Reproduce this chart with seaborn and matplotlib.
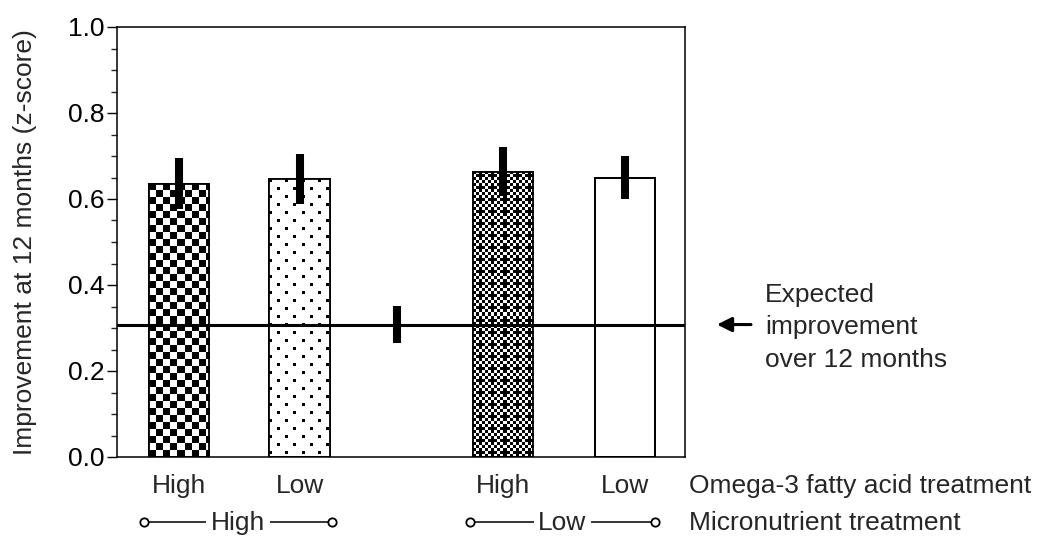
import numpy as np
import pandas as pd
import matplotlib
matplotlib.use('Agg')
import matplotlib.pyplot as plt
import matplotlib.transforms as mtransforms
from matplotlib.patches import Rectangle
from matplotlib.ticker import MultipleLocator
import seaborn as sns

# ---------------- data ----------------
omega_labels = ['High', 'Low', 'High', 'Low']
micro_labels = ['High', 'Low']
bar_positions = [0.0, 1.0, 2.69, 3.70]
bar_means = [0.636, 0.646, 0.663, 0.650]
bar_errors = [0.059, 0.058, 0.057, 0.050]
expected_pos = 1.81
expected_mean = 0.308
expected_err = 0.043
y_ticks = [0.0, 0.2, 0.4, 0.6, 0.8, 1.0]
y_tick_labels = ['0.0', '0.2', '0.4', '0.6', '0.8', '1.0']
ylabel = 'Improvement at 12 months (z-score)'
omega_title = 'Omega-3 fatty acid treatment'
micro_title = 'Micronutrient treatment'
expected_text = 'Expected\nimprovement\nover 12 months'
patterns = ['checker', 'dots', 'finecheck', 'blank']

# ---------------- style ----------------
sns.set_style('ticks')
plt.rcParams['font.family'] = ['Liberation Sans', 'DejaVu Sans']
plt.rcParams['font.size'] = 19
FS = 19

W, H = 1042, 536
fig = plt.figure(figsize=(W / 100, H / 100), dpi=100)
ax = fig.add_axes([117 / W, 1 - 457 / H, (685 - 117) / W, (457 - 27) / H])

df = pd.DataFrame({'pos': bar_positions, 'mean': bar_means})
sns.barplot(data=df, x='pos', y='mean', native_scale=True, width=0.5,
            color='white', saturation=1, edgecolor='black', linewidth=1.3,
            errorbar=None, ax=ax, zorder=2)

ax.set_xlim(-0.515, 4.2)
ax.set_ylim(0, 1.0)
ax.set_xlabel('')
ax.set_ylabel('')


def texture(kind, h, w):
    r = np.arange(h)[:, None]
    c = np.arange(w)[None, :]
    if kind == 'checker':
        black = ((r // 7 + c // 7) % 2 == 0)
    elif kind == 'dots':
        black = (r % 8 < 3) & (c % 8 < 3) & (((r // 8) + (c // 8)) % 2 == 0)
    elif kind == 'finecheck':
        base = ((r // 3 + c // 3) % 2 == 0)
        extra = ((r // 3) % 4 == 1) & ((c // 3) % 4 == 2)
        hole = ((r // 3) % 4 == 3) & ((c // 3) % 4 == 0)
        black = (base | extra) & ~hole
    else:
        black = np.zeros((h, w), dtype=bool)
    return black.astype(float)


bars = sorted(ax.patches, key=lambda p: p.get_x())
for patch, kind in zip(bars, patterns):
    x0, y0 = patch.get_x(), patch.get_y()
    bw, bh = patch.get_width(), patch.get_height()
    p0 = ax.transData.transform((x0, y0))
    p1 = ax.transData.transform((x0 + bw, y0 + bh))
    wpx = max(1, int(round(abs(p1[0] - p0[0]))))
    hpx = max(1, int(round(abs(p1[1] - p0[1]))))
    if kind != 'blank':
        im = ax.imshow(texture(kind, hpx, wpx), cmap='gray_r', vmin=0, vmax=1,
                       extent=(x0, x0 + bw, y0, y0 + bh), origin='upper',
                       aspect='auto', interpolation='nearest', zorder=2.1)
        im.set_clip_path(patch)
    ax.add_patch(Rectangle((x0, y0), bw, bh, fill=False, ec='black',
                           lw=1.3, zorder=2.2))

ax.set_xlim(-0.515, 4.2)
ax.set_ylim(0, 1.0)

# expected improvement line
ax.axhline(expected_mean, color='black', lw=2.2, zorder=3)

# error bars
lo = [m - e for m, e in zip(bar_means, bar_errors)]
hi = [m + e for m, e in zip(bar_means, bar_errors)]
ax.vlines(bar_positions, lo, hi, colors='black', lw=5.8, capstyle='butt', zorder=4)
ax.vlines([expected_pos], [expected_mean - expected_err], [expected_mean + expected_err],
          colors='black', lw=5.8, capstyle='butt', zorder=4)

# axes styling
for s in ax.spines.values():
    s.set_visible(True)
    s.set_linewidth(1.1)
    s.set_color('black')
ax.set_yticks(y_ticks, y_tick_labels)
ax.yaxis.set_minor_locator(MultipleLocator(0.05))
ax.tick_params(axis='y', which='major', length=7, width=1.0, direction='out',
               pad=2, labelsize=FS, colors='black')
ax.tick_params(axis='y', which='minor', length=4, width=1.0, direction='out')
ax.set_xticks([])
ax.set_ylabel(ylabel, fontsize=FS)
ax.yaxis.set_label_coords(-0.141, 0.5)

# category labels below
tr_x = mtransforms.blended_transform_factory(ax.transData, fig.transFigure)
row1_y = 1 - 493 / H
row2_text_y = 1 - 530 / H
row2_line_y = 1 - 522 / H
for pos, lab in zip(bar_positions, omega_labels):
    ax.text(pos, row1_y, lab, transform=tr_x, ha='center', va='baseline',
            fontsize=FS)
fig.text(689 / W, row1_y, omega_title, ha='left', va='baseline', fontsize=FS)

groups = [(0, 1, -0.04, 0.02), (2, 3, -0.025, 0.0)]
for (i, j, dl, dr), lab in zip(groups, micro_labels):
    xa = bar_positions[i] - 0.25 + dl
    xb = bar_positions[j] + 0.25 + dr
    ax.plot([xa, xb], [row2_line_y, row2_line_y], transform=tr_x, color='black',
            lw=1.1, marker='o', ms=6, mfc='white', mec='black', mew=1.3,
            clip_on=False, zorder=5)
    ax.text((xa + xb) / 2, row2_text_y, lab, transform=tr_x, ha='center',
            va='baseline', fontsize=FS, zorder=6,
            bbox=dict(fc='white', ec='none', pad=3.5))
fig.text(689 / W, row2_text_y, micro_title, ha='left', va='baseline', fontsize=FS)

# expected improvement annotation
tr_fy = mtransforms.blended_transform_factory(fig.transFigure, ax.transData)
ax.annotate('', xy=(717 / W, expected_mean), xycoords=tr_fy,
            xytext=(751 / W, expected_mean), textcoords=tr_fy,
            arrowprops=dict(arrowstyle='-|>', lw=2.2, color='black',
                            mutation_scale=22, shrinkA=0, shrinkB=0),
            annotation_clip=False)
ax.text(765 / W, expected_mean - 0.006, expected_text, transform=tr_fy, ha='left',
        va='center', fontsize=FS, linespacing=1.45)

fig.savefig('out.png', dpi=100)
